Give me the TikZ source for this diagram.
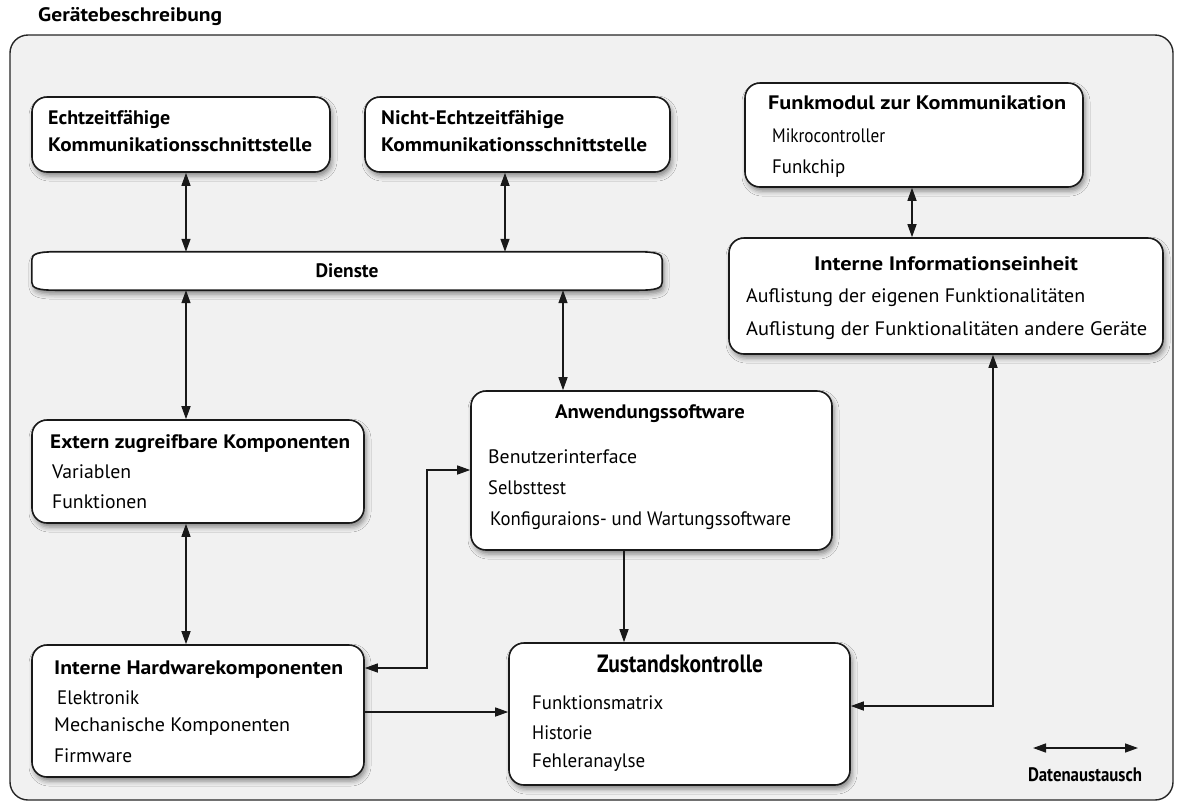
\documentclass[tikz,border=0pt]{standalone}
\usepackage{fontspec}
\setmainfont{PT Sans}
\usepackage{graphicx}
\usetikzlibrary{arrows.meta,calc,shadows.blur}

% set a line of text to a given width, keeping its height
\newcommand{\fitto}[2]{\resizebox{#1pt}{\height}{#2}}

\tikzset{
  frame/.style={draw=black!85, line width=1.4pt, fill=black!5.5, rounded corners=18pt},
  card/.style={draw=black!90, line width=1.6pt, fill=white, rounded corners=15pt, inner sep=0pt,
    blur shadow={shadow xshift=2pt, shadow yshift=-4pt, shadow blur radius=5pt, shadow opacity=45}},
  txt/.style={anchor=west, inner sep=0pt, font=\fontsize{19.5}{21}\selectfont},
  ttl/.style={anchor=west, inner sep=0pt, font=\fontsize{19.5}{21}\selectfont\bfseries},
  ctl/.style={anchor=center, inner sep=0pt, font=\fontsize{19.5}{21}\selectfont\bfseries},
  tip/.tip={Triangle[length=13pt,width=9pt]},
  link/.style={line width=1.4pt, draw=black!90, tip-tip},
  flow/.style={line width=1.4pt, draw=black!90, -tip},
}

\begin{document}
\begin{tikzpicture}[x=1pt,y=-1pt]
\useasboundingbox (0,0) rectangle (1179,807);

% device frame
\node[ttl, font=\fontsize{19.5}{21}\selectfont\bfseries] (head) at (38,17) {\fitto{184}{Gerätebeschreibung}};
\draw[frame] (10,35) rectangle (1173,800);

% boxes
\node[card, minimum width=298, minimum height=75] (echt) at (181,134.5) {};
\node[card, minimum width=305, minimum height=75] (nicht) at (517.5,134.5) {};
\node[card, minimum width=338, minimum height=104] (funk) at (914,135) {};
\node[card, minimum width=434, minimum height=116] (info) at (946,296) {};
\node[card, minimum width=332, minimum height=103] (extern) at (198,471.5) {};
\node[card, minimum width=361, minimum height=159] (anw) at (651.5,470.5) {};
\node[card, minimum width=332, minimum height=132] (hw) at (198,711) {};
\node[card, minimum width=341, minimum height=142] (zust) at (679.5,714) {};

% services bar with curled ends
\node[inner sep=0pt, minimum width=630, minimum height=38] (dienste) at (347,271) {};
\draw[draw=black!90, line width=1.6pt, fill=white,
      blur shadow={shadow xshift=2pt, shadow yshift=-4pt, shadow blur radius=5pt, shadow opacity=45}]
  ($(dienste.north west)+(0,8)$) .. controls ($(dienste.north west)+(0,2)$) and ($(dienste.north west)+(6,0)$) .. ($(dienste.north west)+(24,0)$)
  -- ($(dienste.north east)+(-24,0)$) .. controls ($(dienste.north east)+(-6,0)$) and ($(dienste.north east)+(0,2)$) .. ($(dienste.north east)+(0,8)$)
  -- ($(dienste.south east)+(0,-8)$) .. controls ($(dienste.south east)+(0,-2)$) and ($(dienste.south east)+(-6,0)$) .. ($(dienste.south east)+(-24,0)$)
  -- ($(dienste.south west)+(24,0)$) .. controls ($(dienste.south west)+(6,0)$) and ($(dienste.south west)+(0,-2)$) .. ($(dienste.south west)+(0,-8)$)
  -- cycle;
\node[ctl] (dlabel) at (dienste.center) {\fitto{63}{Dienste}};

% texts
\node[ttl] (echt1) at (48,120) {\fitto{122}{Echtzeitfähige}};
\node[ttl] (echt2) at (48,145) {\fitto{264}{Kommunikationsschnittstelle}};
\node[ttl] (nicht1) at (381,120) {\fitto{183}{Nicht-Echtzeitfähige}};
\node[ttl] (nicht2) at (381,145) {\fitto{266}{Kommunikationsschnittstelle}};

\node[ttl] (funk1) at (768,103) {\fitto{298}{Funkmodul zur Kommunikation}};
\node[txt] (funk2) at (772,136) {\fitto{113}{Mikrocontroller}};
\node[txt] (funk3) at (772,169) {\fitto{73}{Funkchip}};

\node[ctl] (info1) at (946,264) {\fitto{264}{Interne Informationseinheit}};
\node[txt] (info2) at (746,298) {\fitto{339}{Auflistung der eigenen Funktionalitäten}};
\node[txt] (info3) at (746,331) {\fitto{401}{Auflistung der Funktionalitäten andere Geräte}};

\node[ttl] (ext1) at (50,444) {\fitto{300}{Extern zugreifbare Komponenten}};
\node[txt] (ext2) at (52,472) {\fitto{79}{Variablen}};
\node[txt] (ext3) at (52,502) {\fitto{95}{Funktionen}};

\node[ctl] (anw1) at (650,414) {\fitto{190}{Anwendungssoftware}};
\node[txt] (anw2) at (488,457) {\fitto{149}{Benutzerinterface}};
\node[txt] (anw3) at (488,488) {\fitto{78}{Selbsttest}};
\node[txt] (anw4) at (490,521) {\fitto{301}{Konfiguraions- und Wartungssoftware}};

\node[ttl] (hw1) at (54,670) {\fitto{289}{Interne Hardwarekomponenten}};
\node[txt] (hw2) at (57,698) {\fitto{82}{Elektronik}};
\node[txt] (hw3) at (54,727) {\fitto{236}{Mechanische Komponenten}};
\node[txt] (hw4) at (54,756) {\fitto{78}{Firmware}};

\node[ctl, font=\fontsize{25}{27}\selectfont\bfseries] (zust1) at (680,664) {\fitto{166}{Zustandskontrolle}};
\node[txt] (zust2) at (532,703) {\fitto{131}{Funktionsmatrix}};
\node[txt] (zust3) at (532,733) {\fitto{60}{Historie}};
\node[txt] (zust4) at (532,763) {\fitto{113}{Fehleranaylse}};

% connector positions
\coordinate (xa) at (186,0);
\coordinate (xb) at (505,0);
\coordinate (xc) at (563,0);
\coordinate (xd) at (624,0);
\coordinate (xe) at (912,0);
\coordinate (xf) at (993,0);
\coordinate (xg) at (427,0);
\coordinate (yh) at (0,668);
\coordinate (ya) at (0,470);
\coordinate (yk) at (0,712);
\coordinate (ym) at (0,706);

% connectors
\draw[link] (echt.south -| xa) -- (dienste.north -| xa);
\draw[link] (nicht.south -| xb) -- (dienste.north -| xb);
\draw[link] (dienste.south -| xa) -- (extern.north -| xa);
\draw[link] (dienste.south -| xc) -- (anw.north -| xc);
\draw[link] (extern.south -| xa) -- (hw.north -| xa);
\draw[link] (funk.south -| xe) -- (info.north -| xe);
\draw[link] (hw.east |- yh) -- (xg |- yh) -- (xg |- ya) -- (anw.west |- ya);
\draw[flow] (hw.east |- yk) -- (zust.west |- yk);
\draw[flow] (anw.south -| xd) -- (zust.north -| xd);
\draw[link] (info.south -| xf) |- (zust.east |- ym);

% legend
\coordinate (lg1) at (1033,748);
\coordinate (lg2) at (1138,748);
\draw[link] (lg1) -- (lg2);
\node[ctl] (lgtext) at (1085,775) {\fitto{114}{Datenaustausch}};
\end{tikzpicture}
\end{document}
